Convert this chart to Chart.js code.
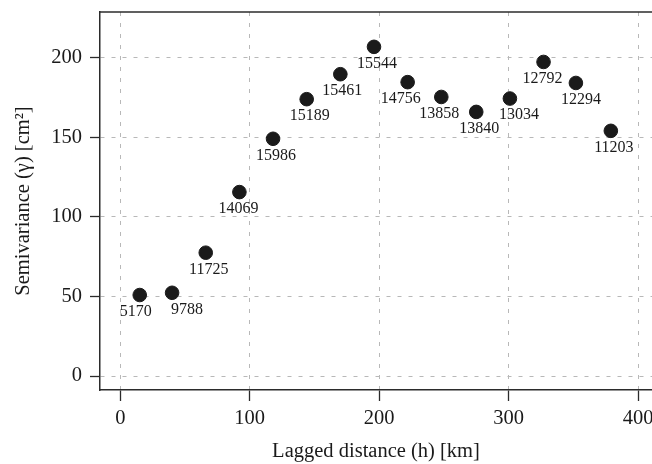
<!DOCTYPE html>
<html>
<head>
<meta charset="utf-8">
<script src="https://cdn.jsdelivr.net/npm/chart.js@4/dist/chart.umd.min.js"></script>
<style>
    html, body { margin: 0; padding: 0; background: #fff; overflow: hidden; }
    #wrap { width: 652px; height: 464px; }
</style>
</head>
<body>
<div id="wrap"><canvas id="variogram"></canvas></div>
<script>
const lagDistance = [15, 40, 66, 92, 118, 144, 170, 196, 222, 248, 275, 301, 327, 352, 379];
const semivariance = [50.9, 52.3, 77.5, 115.6, 149.1, 174.0, 189.7, 206.9, 184.7, 175.4, 166.0, 174.4, 197.4, 184.2, 154.1];
const pairCounts = [5170, 9788, 11725, 14069, 15986, 15189, 15461, 15544, 14756, 13858, 13840, 13034, 12792, 12294, 11203];

const serif = '"Liberation Serif", "DejaVu Serif", serif';

// number of pairs under each point, nudged sideways like in the original
const pointLabels = {
    id: 'pointLabels',
    afterDatasetsDraw(chart, args, opts) {
        const ctx = chart.ctx;
        const meta = chart.getDatasetMeta(0);
        ctx.save();
        ctx.font = '16px ' + serif;
        ctx.fillStyle = '#1a1a1a';
        ctx.textAlign = 'center';
        ctx.textBaseline = 'middle';
        meta.data.forEach(function(pt, i) {
            const dx = opts.nudge[i] || 0;
            ctx.fillText(pairCounts[i], pt.x + dx, pt.y + 16.7);
        });
        ctx.restore();
    }
};

// top edge of the box
const topFrame = {
    id: 'topFrame',
    afterDraw(chart) {
        const { ctx, chartArea } = chart;
        ctx.save();
        ctx.strokeStyle = '#2b2b2b';
        ctx.lineWidth = 1.5;
        ctx.beginPath();
        ctx.moveTo(chartArea.left, chartArea.top);
        ctx.lineTo(chartArea.right, chartArea.top);
        ctx.stroke();
        ctx.restore();
    }
};

function noPadding(scale) {
    scale.paddingTop = 0;
    scale.paddingBottom = 0;
    scale.paddingLeft = 0;
    scale.paddingRight = 0;
}

const points = lagDistance.map(function(d, i) {
    return { x: d, y: semivariance[i] };
});

new Chart(document.getElementById('variogram'), {
    type: 'scatter',
    data: {
        datasets: [{
            data: points,
            backgroundColor: '#1a1a1a',
            borderColor: '#1a1a1a',
            pointRadius: 6.8,
            pointHoverRadius: 6.8
        }]
    },
    options: {
        responsive: true,
        maintainAspectRatio: false,
        animation: false,
        events: [],
        layout: {
            autoPadding: false,
            padding: { top: 12, right: 0, bottom: 0, left: 0 }
        },
        plugins: {
            legend: { display: false },
            tooltip: { enabled: false },
            pointLabels: {
                nudge: [-4, 15, 3, -1, 3, 3, 2, 3, -7, -2, 3, 9, -1, 5, 3]
            }
        },
        scales: {
            x: {
                type: 'linear',
                min: -15.7,
                max: 410.8,
                afterFit: function(s) {
                    noPadding(s);
                    s.height = 74;
                },
                ticks: {
                    stepSize: 100,
                    includeBounds: false,
                    padding: 5,
                    color: '#1a1a1a',
                    font: { family: serif, size: 20.5 }
                },
                grid: {
                    color: '#b8b8b8',
                    lineWidth: 1,
                    tickLength: 11,
                    tickColor: '#2b2b2b',
                    tickWidth: 1.3
                },
                border: { display: true, color: '#2b2b2b', width: 1.5, dash: [4, 7] },
                title: {
                    display: true,
                    text: 'Lagged distance (h) [km]',
                    color: '#1a1a1a',
                    font: { family: serif, size: 20.5 },
                    padding: { top: 0, bottom: 0 }
                }
            },
            y: {
                type: 'linear',
                min: -8.8,
                max: 228.8,
                afterFit: function(s) {
                    noPadding(s);
                    s.width = 100;
                },
                ticks: {
                    stepSize: 50,
                    includeBounds: false,
                    padding: 8,
                    color: '#1a1a1a',
                    font: { family: serif, size: 20.5 }
                },
                grid: {
                    color: '#b8b8b8',
                    lineWidth: 1,
                    tickLength: 10,
                    tickColor: '#2b2b2b',
                    tickWidth: 1.3
                },
                border: { display: true, color: '#2b2b2b', width: 1.5, dash: [4, 7] },
                title: {
                    display: true,
                    text: 'Semivariance (γ) [cm²]',
                    color: '#1a1a1a',
                    font: { family: serif, size: 20.5 },
                    padding: { top: 11, bottom: 0 }
                }
            }
        }
    },
    plugins: [pointLabels, topFrame]
});
</script>
</body>
</html>
